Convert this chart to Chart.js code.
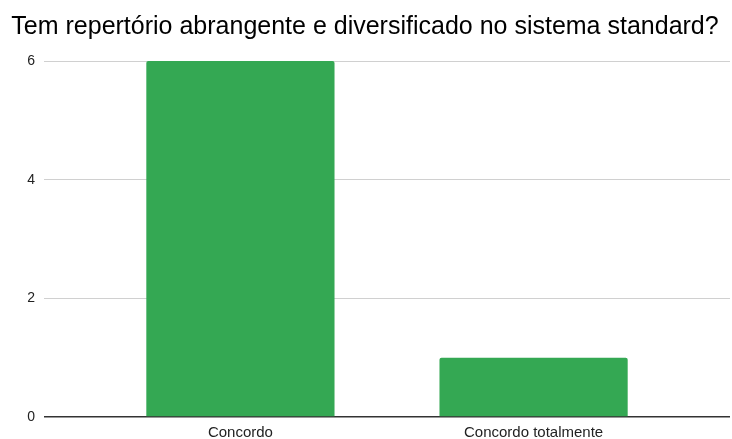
<!DOCTYPE html>
<html>
<head>
<meta charset="utf-8">
<script src="https://cdn.jsdelivr.net/npm/chart.js@4/dist/chart.umd.min.js"></script>
<style>
  html, body { margin: 0; padding: 0; background: #fff; }
  #wrap { width: 732px; height: 439px; position: relative; }
</style>
</head>
<body>
<div id="wrap"><canvas id="chart"></canvas></div>
<script>
const titleText = 'Tem repertório abrangente e diversificado no sistema standard?';
const categories = ['Concordo', 'Concordo totalmente'];
const values = [6, 1];
const yTicks = [0, 2, 4, 6];

const points = values.map((v, i) => ({ x: i, y: v }));

new Chart(document.getElementById('chart'), {
  type: 'bar',
  data: {
    datasets: [{
      label: 'Respostas',
      data: points,
      backgroundColor: '#34a853',
      borderRadius: 2,
      borderSkipped: 'bottom',
      categoryPercentage: 1,
      barPercentage: 0.642
    }]
  },
  options: {
    responsive: true,
    maintainAspectRatio: false,
    animation: false,
    layout: { padding: { left: 0, right: 2, top: 0, bottom: 1 } },
    plugins: {
      legend: { display: false },
      tooltip: { enabled: false },
      title: {
        display: true,
        text: titleText,
        color: '#000',
        font: { family: 'Liberation Sans, Arial, sans-serif', size: 25, weight: 'normal', lineHeight: 1.2 },
        padding: { top: 12, bottom: 19 }
      }
    },
    scales: {
      x: {
        type: 'linear',
        min: -0.67,
        max: 1.67,
        offset: false,
        afterBuildTicks: (scale) => { scale.ticks = categories.map((c, i) => ({ value: i })); },
        afterFit: (scale) => { scale.height = 21; },
        grid: { display: false, drawTicks: false },
        border: { display: false },
        ticks: {
          color: '#222',
          font: { family: 'Liberation Sans, Arial, sans-serif', size: 15, lineHeight: 1 },
          padding: 8,
          maxRotation: 0,
          callback: (v) => categories[v]
        }
      },
      y: {
        min: 0,
        max: 6,
        afterBuildTicks: (scale) => { scale.ticks = yTicks.map(v => ({ value: v })); },
        afterFit: (scale) => { scale.width = 44; },
        grid: {
          color: (ctx) => ctx.tick && ctx.tick.value === 0 ? '#333' : '#d0d0d0',
          lineWidth: (ctx) => ctx.tick && ctx.tick.value === 0 ? 1.5 : 1,
          drawTicks: false
        },
        border: { display: false },
        ticks: {
          color: '#222',
          font: { family: 'Liberation Sans, Arial, sans-serif', size: 14 },
          padding: 9
        }
      }
    }
  }
});
</script>
</body>
</html>
